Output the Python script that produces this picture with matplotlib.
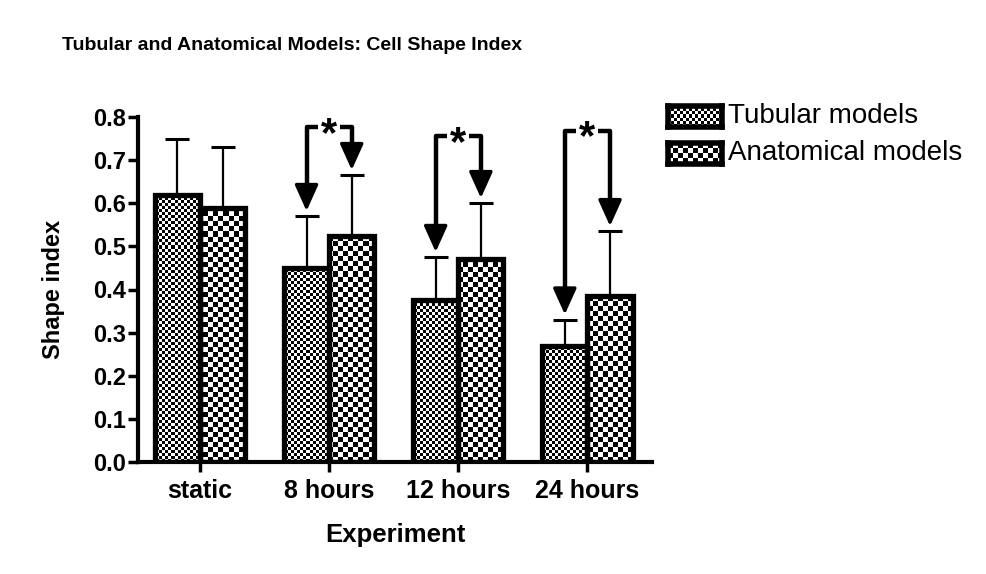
import numpy as np
import matplotlib
matplotlib.use("Agg")
import matplotlib.pyplot as plt

plt.rcParams['font.family'] = ['Liberation Sans', 'DejaVu Sans']

categories = ["static", "8 hours", "12 hours", "24 hours"]
tubular = [0.62, 0.45, 0.375, 0.27]
tubular_err = [0.13, 0.12, 0.10, 0.06]
anatomical = [0.59, 0.525, 0.47, 0.385]
anatomical_err = [0.14, 0.14, 0.13, 0.15]
series_names = ["Tubular models", "Anatomical models"]

# significance brackets: (group index, bracket height)
sig_groups = [1, 2, 3]
sig_heights = [0.776, 0.755, 0.768]

W, H = 986, 574
fig = plt.figure(figsize=(W / 100, H / 100), dpi=100)
ax = fig.add_axes([138 / W, 1 - 462 / H, (652 - 138) / W, (462 - 117) / H])

XLIM = (-0.48, 3.5)
YLIM = (0, 0.8)
ax.set_xlim(*XLIM)
ax.set_ylim(*YLIM)

x = np.arange(len(categories))
bw = 0.35


def checker(h, w, c):
    i = np.arange(h)[:, None] // c
    j = np.arange(w)[None, :] // c
    return ((i + j) % 2).astype(float)


ax_w = 652 - 138
ax_h = 462 - 117
fine = checker(ax_h, ax_w, 3)
coarse = checker(ax_h, ax_w, 5)

bars_t = ax.bar(x - bw / 2, tubular, bw, facecolor='none', edgecolor='k',
                linewidth=3.8, zorder=3)
bars_a = ax.bar(x + bw / 2, anatomical, bw, facecolor='none', edgecolor='k',
                linewidth=3.8, zorder=3)

for bars, pat in [(bars_t, fine), (bars_a, coarse)]:
    for b in bars:
        im = ax.imshow(pat, cmap='gray', interpolation='nearest', aspect='auto',
                       extent=(XLIM[0], XLIM[1], YLIM[0], YLIM[1]), zorder=2,
                       vmin=0, vmax=1)
        im.set_clip_path(b)

ax.set_xlim(*XLIM)
ax.set_ylim(*YLIM)

zeros = [0] * len(x)
ax.errorbar(x - bw / 2, tubular, yerr=[zeros, tubular_err], fmt='none',
            ecolor='k', elinewidth=1.6, capsize=8.5, capthick=2.2, zorder=2.5)
ax.errorbar(x + bw / 2, anatomical, yerr=[zeros, anatomical_err], fmt='none',
            ecolor='k', elinewidth=1.6, capsize=8.5, capthick=2.2, zorder=2.5)

# significance brackets with arrows
for g, top in zip(sig_groups, sig_heights):
    xl = x[g] - bw / 2
    xr = x[g] + bw / 2
    tip_l = tubular[g] + tubular_err[g] + 0.012
    tip_r = anatomical[g] + anatomical_err[g] + 0.012
    ax.plot([xl, xl, x[g] - 0.085], [tip_l + 0.05, top, top], color='k', lw=3.2,
            solid_joinstyle='round', solid_capstyle='butt', clip_on=False, zorder=4)
    ax.plot([x[g] + 0.085, xr, xr], [top, top, tip_r + 0.05], color='k', lw=3.2,
            solid_joinstyle='round', solid_capstyle='butt', clip_on=False, zorder=4)
    for xx, tip in [(xl, tip_l), (xr, tip_r)]:
        ax.annotate('', xy=(xx, tip), xytext=(xx, tip + 0.06),
                    arrowprops=dict(arrowstyle='-|>,head_length=1.0,head_width=0.45',
                                    lw=2.5, color='k', shrinkA=0, shrinkB=0,
                                    mutation_scale=16),
                    annotation_clip=False, zorder=4)
    ax.text(x[g], top - 0.018, '*', ha='center', va='center', fontsize=30,
            fontweight='bold', zorder=4, clip_on=False)

for s in ['top', 'right']:
    ax.spines[s].set_visible(False)
for s in ['left', 'bottom']:
    ax.spines[s].set_linewidth(3)

ax.set_yticks(np.arange(0, 0.81, 0.1))
ax.set_yticklabels([f"{v:.1f}" for v in np.arange(0, 0.81, 0.1)])
ax.set_xticks(x)
ax.set_xticklabels(categories)
ax.tick_params(axis='both', direction='out', length=7.5, width=2.5)
ax.tick_params(axis='y', labelsize=17, pad=1)
ax.tick_params(axis='x', labelsize=18, pad=5)
for lab in ax.get_xticklabels() + ax.get_yticklabels():
    lab.set_fontweight('bold')

ax.set_xlabel("Experiment", fontsize=18.5, fontweight='bold', labelpad=14)
ax.set_ylabel("Shape index", fontsize=17, fontweight='bold', labelpad=20)

fig.text(62 / W, 1 - 45 / H, "Tubular and Anatomical Models: Cell Shape Index",
         fontsize=14, fontweight='bold', ha='left', va='center')

# legend drawn by hand so the swatches carry the checker patterns
for k, (name, pat) in enumerate(zip(series_names, [fine, coarse])):
    top_px = 106 + k * 37
    sw = fig.add_axes([668 / W, 1 - (top_px + 21) / H, 54 / W, 21 / H])
    sw.imshow(checker(21, 54, 3 if k == 0 else 5), cmap='gray',
              interpolation='nearest', aspect='auto', vmin=0, vmax=1)
    sw.set_xticks([])
    sw.set_yticks([])
    for s in sw.spines.values():
        s.set_linewidth(4)
    fig.text(728 / W, 1 - (top_px + 10) / H, name, fontsize=20, ha='left',
             va='center')

fig.savefig("out.png", dpi=100)
